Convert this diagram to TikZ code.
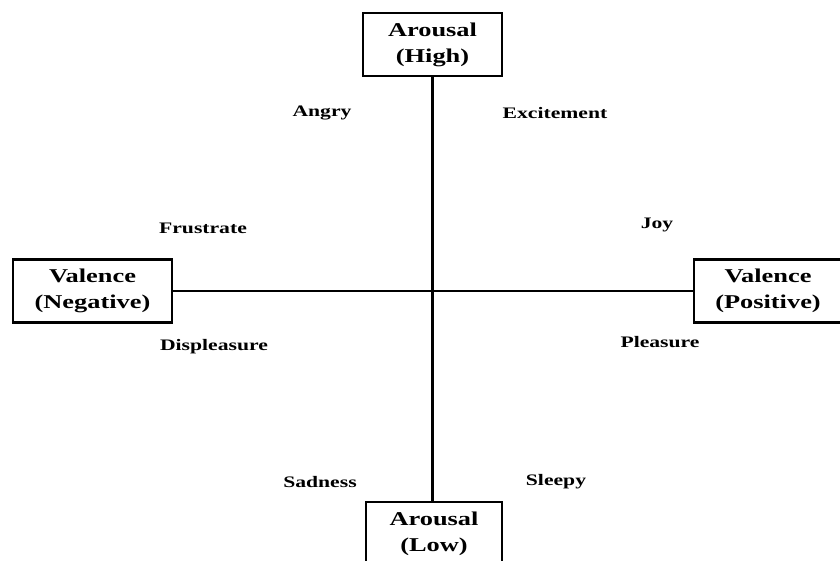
\documentclass[tikz,border=0pt]{standalone}
\usepackage{fontspec}
\setmainfont{Liberation Serif}[FakeStretch=1.35]
\usepackage{tikz}
\usetikzlibrary{positioning}

\begin{document}
\begin{tikzpicture}[x=0.025cm, y=-0.025cm,
  every node/.style={font=\bfseries},
  axisbox/.style={draw, line width=1.5pt, align=center, inner sep=0pt,
                  minimum height=63*0.025cm, font=\fontsize{13.9}{18.5}\selectfont\bfseries},
  emotion/.style={font=\fontsize{11.4}{13}\selectfont\bfseries},
  axisline/.style={line width=1.7pt}
]
  \useasboundingbox (0,0) rectangle (840,560);

  % pole boxes
  \node[axisbox, minimum width=139*0.025cm] (high) at (432.5,44.5) {Arousal\\(High)};
  \node[axisbox, minimum width=136*0.025cm] (low)  at (434,533.5) {Arousal\\(Low)};
  \node[axisbox, minimum width=159*0.025cm] (neg)  at (92.5,291) {Valence\\(Negative)};
  \node[axisbox, minimum width=148*0.025cm] (pos)  at (768,291) {Valence\\(Positive)};

  % axes
  \draw[axisline] (high.south) -- (high.south |- low.north);
  \draw[axisline] (neg.east) -- (pos.west);

  % emotions
  \node[emotion] (angry)  at (322,113) {Angry};
  \node[emotion] (excite) at (555,113) {Excitement};
  \node[emotion] (frust)  at (203,228) {Frustrate};
  \node[emotion] (joy)    at (657,225) {Joy};
  \node[emotion] (displ)  at (214,347) {Displeasure};
  \node[emotion] (pleas)  at (660,342) {Pleasure};
  \node[emotion] (sad)    at (320,482) {Sadness};
  \node[emotion] (sleepy) at (556,482) {Sleepy};
\end{tikzpicture}
\end{document}
